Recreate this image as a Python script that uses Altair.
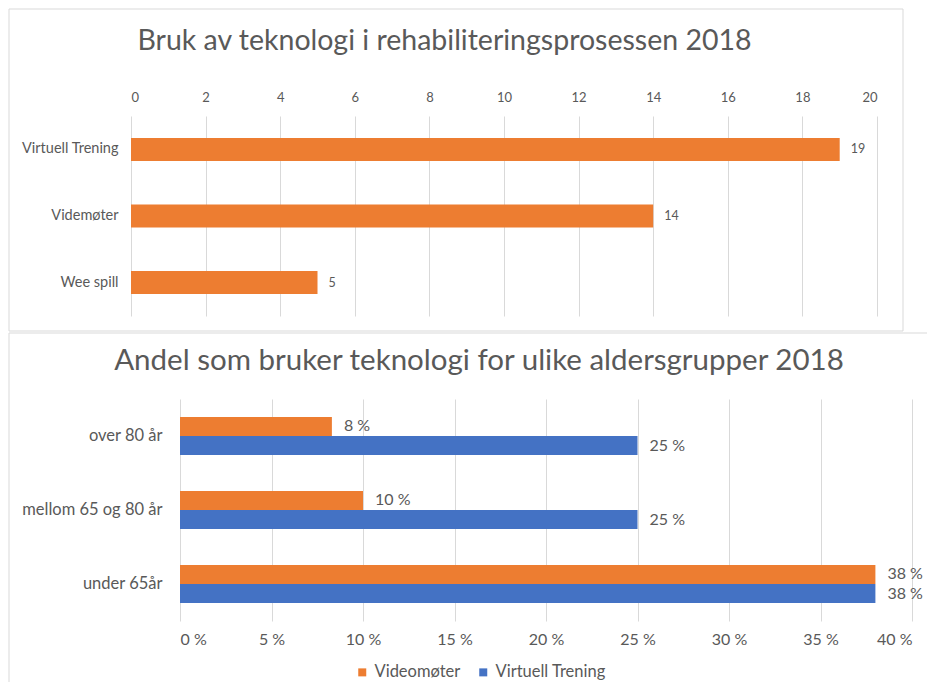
import altair as alt
import pandas as pd

# ---- data: top chart ----
tech_categories = ["Virtuell Trening", "Videmøter", "Wee spill"]
tech_counts = [19, 14, 5]
top_ticks = [0, 2, 4, 6, 8, 10, 12, 14, 16, 18, 20]

# ---- data: bottom chart ----
age_groups = ["over 80 år", "mellom 65 og 80 år", "under 65år"]
series_names = ["Videomøter", "Virtuell Trening"]
video_pct = [8.3, 10, 38]
virtual_pct = [25, 25, 38]
pct_ticks = [0, 5, 10, 15, 20, 25, 30, 35, 40]
series_colors = ["#ED7D31", "#4472C4"]

GRID = "#D9D9D9"
TXT = "#595959"
FONT = "Lato"

# ---------------- top chart ----------------
# both panels share the same origin in a concat column; the top panel's
# value axis is shifted left through its scale range.
top_df = pd.DataFrame({"kategori": tech_categories, "antall": tech_counts})
frame_df = pd.DataFrame({"f": [0]})

top_y = alt.Y(
    "kategori:N", sort=tech_categories, title=None,
    scale=alt.Scale(paddingInner=0.655, paddingOuter=0.33),
    axis=alt.Axis(labelFontSize=14.5, labelColor=TXT, labelFont=FONT, ticks=False,
                  domain=False, labelPadding=62),
)
top_x = alt.X(
    "antall:Q", title=None,
    scale=alt.Scale(domain=[0, 20], nice=False, range=[-49, 697]),
    axis=alt.Axis(orient="top", values=top_ticks, labelFontSize=13, labelColor=TXT,
                  labelFont=FONT, ticks=False, domain=False, grid=True,
                  gridColor=GRID, labelPadding=12),
)
top_base = alt.Chart(top_df)
top_bars = top_base.mark_bar(color="#ED7D31").encode(x=top_x, y=top_y)
top_labels = top_base.mark_text(align="left", dx=11, fontSize=12.5, color=TXT, font=FONT).encode(
    x="antall:Q", y=alt.Y("kategori:N", sort=tech_categories), text="antall:Q"
)
top_frame = alt.Chart(frame_df).mark_rect(fillOpacity=0, stroke=GRID, strokeWidth=1).encode(
    x=alt.value(-171), x2=alt.value(723), y=alt.value(-107), y2=alt.value(215)
)
top_chart = alt.layer(top_frame, top_bars, top_labels).properties(
    width=697, height=200,
    title=alt.TitleParams("Bruk av teknologi i rehabiliteringsprosessen 2018", fontSize=28.5,
                          font=FONT, color=TXT, fontWeight="normal", offset=-47, dx=-84),
)

# ---------------- bottom chart ----------------
rows = []
for i, g in enumerate(age_groups):
    rows.append({"gruppe": g, "serie": series_names[0], "andel": video_pct[i]})
    rows.append({"gruppe": g, "serie": series_names[1], "andel": virtual_pct[i]})
bot_df = pd.DataFrame(rows)

bot_y = alt.Y(
    "gruppe:N", sort=age_groups, title=None,
    scale=alt.Scale(paddingInner=0.486, paddingOuter=0.243),
    axis=alt.Axis(labelFontSize=16.5, labelColor=TXT, labelFont=FONT, ticks=False,
                  domain=False, labelPadding=18),
)
bot_x = alt.X(
    "andel:Q", title=None,
    scale=alt.Scale(domain=[0, 40], nice=False),
    axis=alt.Axis(values=pct_ticks, labelExpr="datum.value + ' %'", labelFontSize=16,
                  labelColor=TXT, labelFont=FONT, ticks=False, domain=False, grid=True,
                  gridColor=GRID, labelPadding=10),
)
bot_yoff = alt.YOffset("serie:N", sort=series_names,
                       scale=alt.Scale(paddingInner=0, paddingOuter=0))
bot_color = alt.Color(
    "serie:N",
    scale=alt.Scale(domain=series_names, range=series_colors),
    legend=alt.Legend(orient="none", legendX=174, legendY=265, direction="horizontal",
                      title=None, symbolType="square", symbolSize=64, symbolStrokeWidth=0,
                      labelFontSize=16.5, labelColor=TXT, labelFont=FONT, columnPadding=14,
                      labelOffset=4),
)
bot_base = alt.Chart(bot_df).transform_calculate(etikett="round(datum.andel) + ' %'")
bot_bars = bot_base.mark_bar().encode(x=bot_x, y=bot_y, yOffset=bot_yoff, color=bot_color)
bot_labels = bot_base.mark_text(align="left", dx=12, fontSize=16, color=TXT, font=FONT).encode(
    x="andel:Q", y=alt.Y("gruppe:N", sort=age_groups), yOffset=bot_yoff, text="etikett:N"
)
bot_top_line = alt.Chart(frame_df).mark_rule(color=GRID, strokeWidth=1).encode(
    x=alt.value(-171), x2=alt.value(747), y=alt.value(-66)
)
bot_left_line = alt.Chart(frame_df).mark_rule(color=GRID, strokeWidth=1).encode(
    x=alt.value(-171), y=alt.value(-66), y2=alt.value(283)
)
bot_chart = alt.layer(bot_top_line, bot_left_line, bot_bars, bot_labels).properties(
    width=732, height=222,
    title=alt.TitleParams("Andel som bruker teknologi for ulike aldersgrupper 2018", fontSize=29.5,
                          font=FONT, color=TXT, fontWeight="normal", offset=-44, dx=-67),
)

chart = alt.concat(top_chart, bot_chart, columns=1, spacing=0).resolve_scale(
    color="independent"
).resolve_legend(color="independent").properties(
    padding=0, background="white"
).configure_view(stroke=None)

chart.save("out.html", embed_options={"renderer": "svg", "actions": False})
